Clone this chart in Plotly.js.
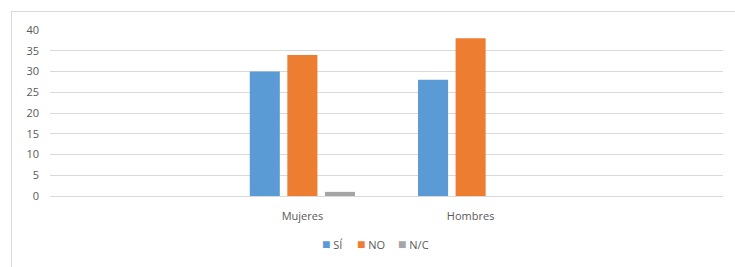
<!DOCTYPE html>
<html>
<head>
<meta charset="utf-8">
<script src="https://cdn.plot.ly/plotly-3.0.1.min.js"></script>
<style>
html,body{margin:0;padding:0;background:#fff;overflow:hidden;}
#frame{position:absolute;left:11px;top:11px;width:740px;height:270px;border:1px solid #d9d9d9;box-sizing:border-box;}
#chart{position:absolute;left:0;top:0;width:735px;height:267px;}
</style>
</head>
<body>
<div id="frame"></div>
<div id="chart"></div>
<script>
const categories = [" ", "Mujeres", "Hombres", "  "];
const si = [null, 30, 28, null];
const no = [null, 34, 38, null];
const nc = [null, 1, 0, null];
const seriesNames = ["SÍ", "NO", "N/C"];
const colors = ["#5b9bd5", "#ed7d31", "#a5a5a5"];
const yTicks = [0, 5, 10, 15, 20, 25, 30, 35, 40];

const font = {family: "Open Sans, sans-serif", size: 11, color: "#595959"};
const traces = [si, no, nc].map((vals, i) => ({
  type: "bar", x: categories, y: vals, name: seriesNames[i],
  marker: {color: colors[i]}, hoverinfo: "none", showlegend: false
}));

// legend drawn as annotations (compact, Excel-like)
const plotL = 50, plotW = 673;
const legendX = [320, 355, 396];
const annotations = seriesNames.map((n, i) => ({
  xref: "paper", yref: "paper", x: (legendX[i] - plotL) / plotW, y: -0.285,
  xanchor: "left", yanchor: "middle", showarrow: false,
  text: "<span style='color:" + colors[i] + ";font-size:14px'>■</span> " + n,
  font: font
}));

Plotly.newPlot("chart", traces, {
  width: 735, height: 267,
  margin: {l: 50, r: 12, t: 30, b: 71},
  paper_bgcolor: "rgba(0,0,0,0)", plot_bgcolor: "rgba(0,0,0,0)",
  font: font,
  barmode: "group", bargap: 0.33, bargroupgap: 0.2,
  xaxis: {type: "category", categoryarray: categories, showgrid: false, showline: true,
    linecolor: "#d9d9d9", linewidth: 1, ticks: "", tickfont: font, ticklabelstandoff: 10,
    fixedrange: true},
  yaxis: {range: [0, 40], tickvals: yTicks, showgrid: true, gridcolor: "#d9d9d9",
    gridwidth: 1, zeroline: false, showline: false, ticks: "", ticklabelstandoff: 10,
    tickfont: font, fixedrange: true},
  annotations: annotations,
  showlegend: false
}, {staticPlot: true});
</script>
</body>
</html>
